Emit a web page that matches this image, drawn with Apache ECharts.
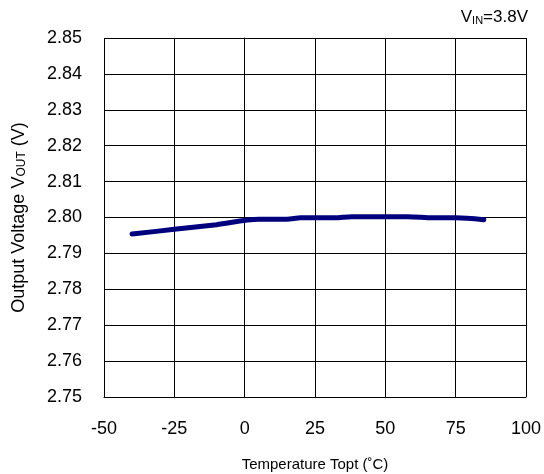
<!DOCTYPE html>
<html>
<head>
<meta charset="utf-8">
<script src="https://cdn.jsdelivr.net/npm/echarts@6/dist/echarts.min.js"></script>
<style>
  html, body { margin: 0; padding: 0; background: #fff; }
  #chart { width: 544px; height: 474px; }
</style>
</head>
<body>
<div id="chart"></div>
<script>
// temperature (°C) and output voltage (V)
var temps = [-40, -25, -10, 5, 15, 20, 32, 38, 58, 67, 75, 85];
var vout = [2.7954, 2.7967, 2.7980, 2.7995, 2.7995, 2.7999, 2.7999, 2.8002, 2.8002, 2.7999, 2.7999, 2.7994];

var chart = echarts.init(document.getElementById('chart'));
var font = 'Liberation Sans, Arial, sans-serif';

var option = {
  animation: false,
  backgroundColor: '#fff',
  title: {
    text: 'V{s|IN}=3.8V',
    right: 16,
    top: 9,
    padding: 0,
    textStyle: {
      fontFamily: font, fontSize: 17, fontWeight: 'normal', color: '#000',
      rich: { s: { fontFamily: font, fontSize: 11, color: '#000', padding: [6, 0, 0, 0] } }
    }
  },
  grid: { left: 104, right: 18, top: 38, bottom: 77, outerBoundsMode: 'none' },
  xAxis: {
    type: 'value',
    min: -50, max: 100, interval: 25,
    name: 'Temperature Topt (\u02daC)',
    nameLocation: 'middle',
    nameGap: 60,
    nameTextStyle: { fontFamily: font, fontSize: 15, color: '#000' },
    axisLine: { lineStyle: { color: '#000', width: 1 } },
    axisTick: { show: false },
    axisLabel: { fontFamily: font, fontSize: 18, color: '#000', margin: 23 },
    splitLine: { lineStyle: { color: '#000', width: 1 } }
  },
  yAxis: {
    type: 'value',
    min: 2.75, max: 2.85, interval: 0.01,
    name: 'Output Voltage V{s|OUT} (V)',
    nameLocation: 'middle',
    nameGap: 76,
    nameTextStyle: {
      fontFamily: font, fontSize: 18, color: '#000',
      rich: { s: { fontFamily: font, fontSize: 12, color: '#000', padding: [5, 0, 0, 0] } }
    },
    axisLine: { show: true, lineStyle: { color: '#000', width: 1 } },
    axisTick: { show: false },
    axisLabel: {
      fontFamily: font, fontSize: 18, color: '#000', margin: 22,
      formatter: function (v) { return v.toFixed(2); }
    },
    splitLine: { lineStyle: { color: '#000', width: 1 } }
  },
  series: [{
    type: 'line',
    data: temps.map(function (t, i) { return [t, vout[i]]; }),
    smooth: 0.3,
    showSymbol: false,
    lineStyle: { color: '#00007f', width: 5, cap: 'round' }
  }]
};

chart.setOption(option);
window.addEventListener('resize', function () { chart.resize(); });
</script>
</body>
</html>
